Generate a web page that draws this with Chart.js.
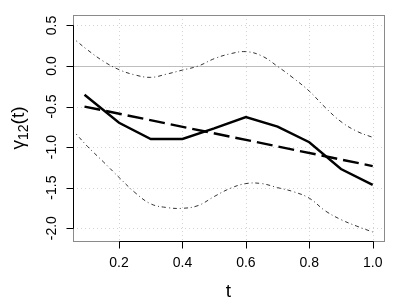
<!DOCTYPE html>
<html>
<head>
<meta charset="utf-8">
<script src="https://cdn.jsdelivr.net/npm/chart.js@4/dist/chart.umd.min.js"></script>
<style>
  body { margin: 0; background: #fff; }
  #wrap { width: 400px; height: 300px; }
</style>
</head>
<body>
<div id="wrap"><canvas id="grafico" width="400" height="300"></canvas></div>
<script>
// estimated curve (solid)
const tMean = [0.091, 0.2, 0.3, 0.4, 0.5, 0.6, 0.7, 0.8, 0.9, 1.0];
const meanVals = [-0.355, -0.70, -0.90, -0.90, -0.77, -0.63, -0.747, -0.94, -1.27, -1.465];

// linear fit (long dash)
const tLin = [0.091, 1.0];
const linVals = [-0.50, -1.234];

// pointwise bands (dot-dash)
const tBand = [0.065, 0.1, 0.15, 0.2, 0.25, 0.3, 0.35, 0.4, 0.45, 0.5,
               0.55, 0.6, 0.65, 0.7, 0.75, 0.8, 0.85, 0.9, 0.95, 1.0];
const upperVals = [0.31, 0.20, 0.06, -0.045, -0.11, -0.14, -0.10, -0.05, 0.00, 0.09,
                   0.15, 0.177, 0.125, -0.005, -0.15, -0.31, -0.51, -0.686, -0.805, -0.88];
const lowerVals = [-0.84, -0.99, -1.18, -1.374, -1.56, -1.70, -1.745, -1.755, -1.72, -1.61,
                   -1.51, -1.45, -1.45, -1.50, -1.55, -1.63, -1.785, -1.894, -1.975, -2.047];

// axes
const xTicks = [0.2, 0.4, 0.6, 0.8, 1.0];
const xTickLabels = ["0.2", "0.4", "0.6", "0.8", "1.0"];
const yTicks = [-2.0, -1.5, -1.0, -0.5, 0.0, 0.5];
const yTickLabels = ["-2.0", "-1.5", "-1.0", "-0.5", "0.0", "0.5"];

const FONT = "'Liberation Sans', Arial, Helvetica, sans-serif";

const toXY = (xs, ys) => xs.map((x, i) => ({ x, y: ys[i] }));

const rAxes = {
  id: "rAxes",
  beforeDatasetsDraw(chart) {
    const { ctx, chartArea: a, scales: { x, y } } = chart;
    ctx.save();
    // dotted grid
    ctx.strokeStyle = "#d3d3d3";
    ctx.lineWidth = 1;
    ctx.setLineDash([1, 3]);
    xTicks.forEach(v => {
      const px = Math.round(x.getPixelForValue(v)) + 0.5;
      ctx.beginPath(); ctx.moveTo(px, a.top); ctx.lineTo(px, a.bottom); ctx.stroke();
    });
    yTicks.forEach(v => {
      const py = Math.round(y.getPixelForValue(v)) + 0.5;
      ctx.beginPath(); ctx.moveTo(a.left, py); ctx.lineTo(a.right, py); ctx.stroke();
    });
    // zero line
    ctx.setLineDash([]);
    ctx.strokeStyle = "#bebebe";
    const y0 = Math.round(y.getPixelForValue(0)) + 0.5;
    ctx.beginPath(); ctx.moveTo(a.left, y0); ctx.lineTo(a.right, y0); ctx.stroke();
    ctx.restore();
  },
  afterDraw(chart) {
    const { ctx, chartArea: a, scales: { x, y } } = chart;
    const L = Math.round(a.left) + 0.5, R = Math.round(a.right) + 0.5;
    const T = Math.round(a.top) + 0.5, B = Math.round(a.bottom) + 0.5;
    ctx.save();
    // box
    ctx.strokeStyle = "#8a8a8a";
    ctx.lineWidth = 1;
    ctx.strokeRect(L, T, R - L, B - T);
    // axis lines + ticks
    ctx.strokeStyle = "#000";
    const x1 = Math.round(x.getPixelForValue(xTicks[0])) + 0.5;
    const x2 = Math.round(x.getPixelForValue(xTicks[xTicks.length - 1])) + 0.5;
    ctx.beginPath(); ctx.moveTo(x1, B); ctx.lineTo(x2, B); ctx.stroke();
    xTicks.forEach(v => {
      const px = Math.round(x.getPixelForValue(v)) + 0.5;
      ctx.beginPath(); ctx.moveTo(px, B); ctx.lineTo(px, B + 7); ctx.stroke();
    });
    const y1 = Math.round(y.getPixelForValue(yTicks[0])) + 0.5;
    const y2 = Math.round(y.getPixelForValue(yTicks[yTicks.length - 1])) + 0.5;
    ctx.beginPath(); ctx.moveTo(L, y1); ctx.lineTo(L, y2); ctx.stroke();
    yTicks.forEach(v => {
      const py = Math.round(y.getPixelForValue(v)) + 0.5;
      ctx.beginPath(); ctx.moveTo(L, py); ctx.lineTo(L - 7, py); ctx.stroke();
    });
    // tick labels
    ctx.fillStyle = "#000";
    ctx.font = "14px " + FONT;
    ctx.textAlign = "center";
    ctx.textBaseline = "middle";
    xTicks.forEach((v, i) => {
      ctx.fillText(xTickLabels[i], x.getPixelForValue(v), 263);
    });
    yTicks.forEach((v, i) => {
      ctx.save();
      ctx.translate(52, y.getPixelForValue(v));
      ctx.rotate(-Math.PI / 2);
      ctx.fillText(yTickLabels[i], 0, 0);
      ctx.restore();
    });
    // axis titles
    ctx.font = "19px " + FONT;
    ctx.textBaseline = "alphabetic";
    ctx.fillText("t", (a.left + a.right) / 2, 297);
    ctx.save();
    ctx.translate(24, (a.top + a.bottom) / 2);
    ctx.rotate(-Math.PI / 2);
    ctx.textAlign = "left";
    const big = "19px " + FONT, small = "14px " + FONT;
    ctx.font = big; const w1 = ctx.measureText("\u03b3").width;
    ctx.font = small; const w2 = ctx.measureText("12").width;
    ctx.font = big; const w3 = ctx.measureText("(t)").width;
    let cx = -(w1 + w2 + w3) / 2;
    ctx.font = big; ctx.fillText("\u03b3", cx, 0); cx += w1;
    ctx.font = small; ctx.fillText("12", cx, 4); cx += w2;
    ctx.font = big; ctx.fillText("(t)", cx, 0);
    ctx.restore();
    ctx.restore();
  }
};

new Chart(document.getElementById("grafico").getContext("2d"), {
  type: "line",
  data: {
    datasets: [
      {
        data: toXY(tBand, upperVals),
        borderColor: "#333",
        borderWidth: 1,
        borderDash: [1, 3, 4, 3],
        tension: 0.4
      },
      {
        data: toXY(tBand, lowerVals),
        borderColor: "#333",
        borderWidth: 1,
        borderDash: [1, 3, 4, 3],
        tension: 0.4
      },
      {
        data: toXY(tLin, linVals),
        borderColor: "#000",
        borderWidth: 2.4,
        borderDash: [16, 6]
      },
      {
        data: toXY(tMean, meanVals),
        borderColor: "#000",
        borderWidth: 2.4
      }
    ]
  },
  options: {
    responsive: false,
    animation: false,
    events: [],
    layout: { padding: { left: 73, right: 16, top: 15, bottom: 59 } },
    elements: { point: { radius: 0 } },
    plugins: { legend: { display: false }, tooltip: { enabled: false } },
    scales: {
      x: { type: "linear", min: 0.0547, max: 1.0357, display: false },
      y: { type: "linear", min: -2.158, max: 0.629, display: false }
    }
  },
  plugins: [rAxes]
});
</script>
</body>
</html>
